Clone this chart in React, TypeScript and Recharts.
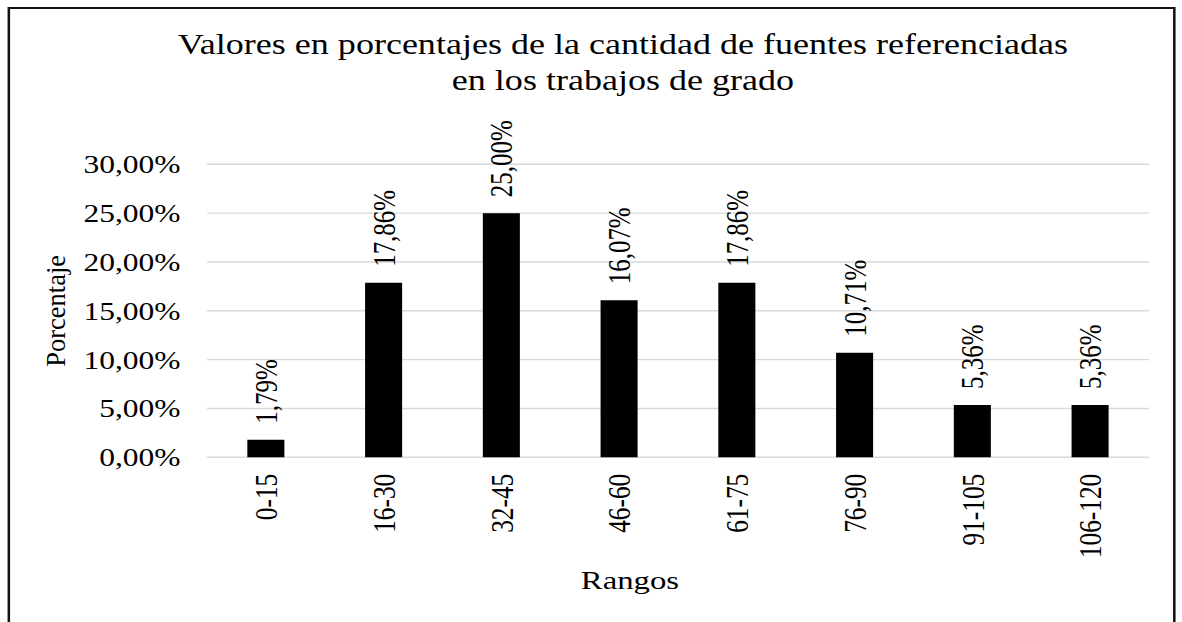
import React from 'react';
import { BarChart, Bar, XAxis, YAxis, CartesianGrid, LabelList } from 'recharts';

const categories = ['0-15', '16-30', '32-45', '46-60', '61-75', '76-90', '91-105', '106-120'];
const percentages = [1.79, 17.86, 25.0, 16.07, 17.86, 10.71, 5.36, 5.36];
const yTicks = [0, 5, 10, 15, 20, 25, 30];
const titleLines = ['Valores en porcentajes de la cantidad de fuentes referenciadas', 'en los trabajos de grado'];
const xTitle = 'Rangos';
const yTitle = 'Porcentaje';

const data = categories.map((c, i) => ({ rango: c, porcentaje: percentages[i] }));

const S = 1.26;
const W = 1182 / S;
const H = 622;
const FONT = '"Liberation Serif", "Times New Roman", serif';
const fmt = (v: number) => v.toFixed(2).replace('.', ',') + '%';

const XTick = (props: any) => {
  const { x, y, payload } = props;
  return (
    <g transform={`translate(${x},${y + 16.5}) rotate(-90)`}>
      <text x={0} y={0} dy="0.35em" textAnchor="end" fill="#000" fontSize={25.3} fontFamily={FONT}>
        {payload.value}
      </text>
    </g>
  );
};

const DataLabel = (props: any) => {
  const { x, y, width, value } = props;
  return (
    <g transform={`translate(${x + width / 2},${y - 16}) rotate(-90)`}>
      <text x={0} y={0} dy="0.35em" textAnchor="start" fill="#000" fontSize={25} fontFamily={FONT}>
        {fmt(value)}
      </text>
    </g>
  );
};

export default function App() {
  return (
    <div style={{ position: 'absolute', left: 0, top: 0, width: 1182, height: H, overflow: 'hidden', background: '#fff' }}>
      <div style={{ position: 'absolute', left: 0, top: 0, width: W, height: H, transform: `scaleX(${S})`, transformOrigin: '0 0' }}>
        <div style={{ position: 'absolute', left: 5.6, top: 7, width: 933.3 - 5.6, height: 700, border: '2px solid #111', boxSizing: 'border-box' }} />
        <div style={{ position: 'absolute', left: 494.4 - 450, top: 26.5, width: 900, textAlign: 'center', fontFamily: FONT, fontSize: 28.6, lineHeight: '36px', color: '#000', whiteSpace: 'pre' }}>
          {titleLines[0]}
          <br />
          {titleLines[1]}
        </div>
        <div style={{ position: 'absolute', left: 0, top: 0 }}>
          <BarChart width={W} height={H} data={data} margin={{ top: 164.3, right: W - 911.9, bottom: 0, left: 64.3 }}>
            <CartesianGrid vertical={false} stroke="#d9d9d9" strokeWidth={1.4} />
            <XAxis
              dataKey="rango"
              height={164.7}
              axisLine={false}
              tickLine={false}
              tickSize={0}
              tickMargin={0}
              interval={0}
              tick={<XTick />}
              label={{
                content: (p: any) => {
                  const vb = p.viewBox;
                  return (
                    <text x={500} y={vb.y + 131.7} textAnchor="middle" fill="#000" fontSize={26} fontFamily={FONT}>
                      {xTitle}
                    </text>
                  );
                },
              }}
            />
            <YAxis
              domain={[0, 30]}
              ticks={yTicks}
              width={100}
              axisLine={false}
              tickLine={false}
              tickSize={0}
              tickMargin={21}
              tickFormatter={fmt}
              tick={{ fill: '#000', fontSize: 25, fontFamily: FONT }}
              label={{
                content: (p: any) => {
                  const vb = p.viewBox;
                  const cy = vb.y + vb.height / 2;
                  return (
                    <text transform={`translate(51.2,${cy}) scale(${1 / S},1) rotate(-90)`} x={0} y={0} textAnchor="middle" fill="#000" fontSize={26.5} fontFamily={FONT}>
                      {yTitle}
                    </text>
                  );
                },
              }}
            />
            <Bar dataKey="porcentaje" fill="#000" barSize={29.4} isAnimationActive={false}>
              <LabelList dataKey="porcentaje" content={<DataLabel />} />
            </Bar>
          </BarChart>
        </div>
      </div>
    </div>
  );
}
